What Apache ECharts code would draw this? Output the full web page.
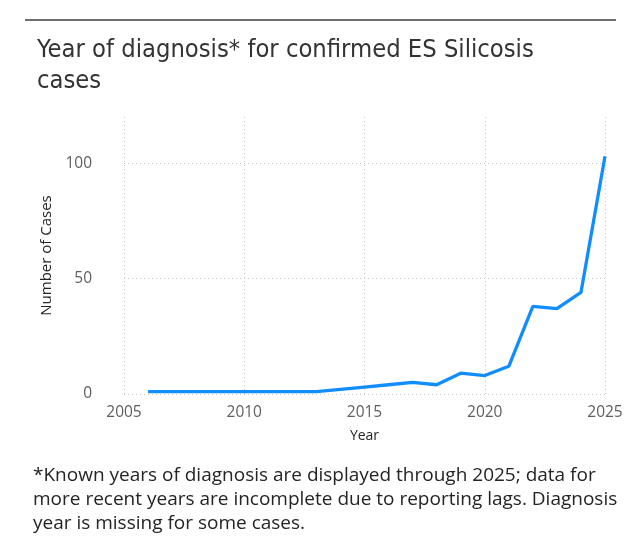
<!DOCTYPE html>
<html>
<head>
<meta charset="utf-8">
<script src="https://cdn.jsdelivr.net/npm/echarts@6/dist/echarts.min.js"></script>
<style>
  html, body { margin: 0; padding: 0; background: #fff; }
  #main { width: 634px; height: 549px; }
</style>
</head>
<body>
<div id="main"></div>
<script>
// data
var years = [2006, 2007, 2008, 2009, 2010, 2011, 2012, 2013, 2014, 2015,
             2016, 2017, 2018, 2019, 2020, 2021, 2022, 2023, 2024, 2025];
var cases = [1, 1, 1, 1, 1, 1, 1, 1, 2, 3,
             4, 5, 4, 9, 8, 12, 38, 37, 44, 103];
var xTicks = [2005, 2010, 2015, 2020, 2025];
var yTicks = [0, 50, 100];

var titleText = 'Year of diagnosis* for confirmed ES Silicosis\ncases';
var noteText = '*Known years of diagnosis are displayed through 2025; data for\n' +
               'more recent years are incomplete due to reporting lags. Diagnosis\n' +
               'year is missing for some cases.';

var seriesData = [];
for (var i = 0; i < years.length; i++) {
    seriesData.push([years[i], cases[i]]);
}

var myChart = echarts.init(document.getElementById('main'));
var option = {
    backgroundColor: '#fff',
    animation: false,
    title: [
        {
            text: titleText,
            left: 37, top: 35, padding: 0,
            textStyle: { fontFamily: 'DejaVu Sans Condensed', fontSize: 25.3, fontWeight: 'normal',
                         color: '#333333', lineHeight: 31 }
        },
        {
            text: noteText,
            left: 33, top: 464, padding: 0,
            textStyle: { fontFamily: 'Open Sans', fontSize: 19, fontWeight: 'normal',
                         color: '#252423', lineHeight: 24 }
        }
    ],
    graphic: [
        // rule above the visual
        { type: 'line', shape: { x1: 25, y1: 20, x2: 616, y2: 20 },
          style: { stroke: '#6e6e6e', lineWidth: 2 } }
    ],
    grid: { left: 124, right: 29, top: 117, bottom: 155 },
    xAxis: {
        type: 'value',
        min: xTicks[0], max: xTicks[xTicks.length - 1], interval: 5,
        name: 'Year', nameLocation: 'middle', nameGap: 35,
        nameTextStyle: { fontFamily: 'Open Sans', fontSize: 14, color: '#252423' },
        axisLine: { show: false }, axisTick: { show: false },
        axisLabel: { margin: 11, fontFamily: 'Open Sans', fontSize: 15.5, color: '#605e5c',
                     formatter: function (v) { return xTicks.indexOf(v) >= 0 ? String(v) : ''; } },
        splitLine: { show: true, lineStyle: { color: '#c8c6c4', width: 1, type: [1, 3] } }
    },
    yAxis: {
        type: 'value',
        min: 0, max: 120, interval: 50,
        name: 'Number of Cases', nameLocation: 'middle', nameGap: 69, nameRotate: 90,
        nameTextStyle: { fontFamily: 'Open Sans', fontSize: 15, color: '#252423' },
        axisLine: { show: false }, axisTick: { show: false },
        axisLabel: { margin: 32, fontFamily: 'Open Sans', fontSize: 15.5, color: '#605e5c',
                     showMaxLabel: false,
                     formatter: function (v) { return yTicks.indexOf(v) >= 0 ? String(v) : ''; } },
        // no dotted line along the top edge (120)
        splitLine: { show: true,
                     lineStyle: { color: ['#c8c6c4', '#c8c6c4', '#c8c6c4', 'rgba(0,0,0,0)'],
                                  width: 1, type: [1, 3] } }
    },
    series: [
        {
            type: 'line',
            data: seriesData,
            showSymbol: false,
            lineStyle: { color: '#118dff', width: 3.3 },
            itemStyle: { color: '#118dff' }
        }
    ]
};
myChart.setOption(option);
</script>
</body>
</html>
